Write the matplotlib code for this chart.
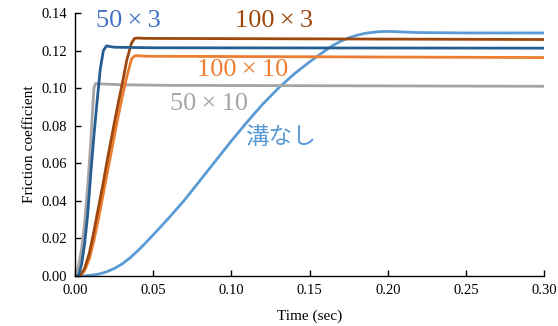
import matplotlib
matplotlib.use("Agg")
import matplotlib.pyplot as plt
import numpy as np

# Data
t_50x3 = [0, 0.002, 0.004, 0.006, 0.008, 0.010, 0.012, 0.014, 0.016, 0.018, 0.020, 0.022, 0.025, 0.05, 0.30]
f_50x3 = [0, 0.0, 0.006, 0.017, 0.033, 0.055, 0.075, 0.093, 0.110, 0.120, 0.1225, 0.1222, 0.1218, 0.1215, 0.1213]

t_50x10 = [0, 0.002, 0.004, 0.006, 0.008, 0.010, 0.011, 0.012, 0.013, 0.015, 0.03, 0.06, 0.30]
f_50x10 = [0, 0.005, 0.014, 0.028, 0.048, 0.072, 0.087, 0.100, 0.1025, 0.1023, 0.1018, 0.1015, 0.1010]

t_100x3 = [0, 0.003, 0.006, 0.009, 0.012, 0.015, 0.018, 0.021, 0.024, 0.027, 0.030, 0.033, 0.036, 0.038, 0.040, 0.045, 0.30]
f_100x3 = [0, 0, 0.004, 0.012, 0.024, 0.037, 0.050, 0.064, 0.077, 0.090, 0.102, 0.115, 0.124, 0.1265, 0.1267, 0.1265, 0.1259]

t_100x10 = [0, 0.003, 0.006, 0.009, 0.012, 0.015, 0.018, 0.021, 0.024, 0.027, 0.030, 0.033, 0.036, 0.038, 0.040, 0.045, 0.30]
f_100x10 = [0, 0, 0.003, 0.009, 0.019, 0.031, 0.044, 0.057, 0.070, 0.083, 0.095, 0.106, 0.1155, 0.1172, 0.1173, 0.1170, 0.1163]

t_none = [0, 0.005, 0.01, 0.015, 0.02, 0.025, 0.03, 0.035, 0.04, 0.045, 0.05, 0.055, 0.06, 0.07, 0.08, 0.09,
          0.10, 0.11, 0.12, 0.13, 0.14, 0.15, 0.155, 0.16, 0.165, 0.17, 0.175, 0.18, 0.185, 0.19, 0.195,
          0.20, 0.205, 0.21, 0.22, 0.25, 0.30]
f_none = [0, 0.0, 0.0004, 0.001, 0.0022, 0.004, 0.0064, 0.0096, 0.0134, 0.0176, 0.022, 0.0265, 0.031, 0.0405,
          0.051, 0.0615, 0.072, 0.082, 0.0915, 0.1, 0.1075, 0.114, 0.117, 0.1200, 0.1228, 0.1250, 0.1268,
          0.1281, 0.1291, 0.1297, 0.1301, 0.1302, 0.1301, 0.1299, 0.1296, 0.1294, 0.1294]

x_ticks = [0.00, 0.05, 0.10, 0.15, 0.20, 0.25, 0.30]
y_ticks = [0.00, 0.02, 0.04, 0.06, 0.08, 0.10, 0.12, 0.14]

c_50x3 = "#255E91"
c_50x10 = "#A5A5A5"
c_100x3 = "#9E480E"
c_100x10 = "#ED7D31"
c_none = "#5B9BD5"

plt.rcParams['font.family'] = ['Liberation Serif', 'DejaVu Serif']

fig = plt.figure(figsize=(5.58, 3.26), dpi=100)
ax = fig.add_axes([0.1348, 0.1534, 0.975 - 0.1348, 0.960 - 0.1534])

lw = 2.0
ax.plot(t_none, f_none, color=c_none, lw=lw)
ax.plot(t_50x10, f_50x10, color=c_50x10, lw=lw)
ax.plot(t_100x10, f_100x10, color=c_100x10, lw=lw)
ax.plot(t_100x3, f_100x3, color=c_100x3, lw=lw)
ax.plot(t_50x3, f_50x3, color=c_50x3, lw=lw)

ax.set_xlim(0, 0.30)
ax.set_ylim(0, 0.14)
ax.set_xticks(x_ticks)
ax.set_yticks(y_ticks)
ax.set_xticklabels([f"{v:.2f}" for v in x_ticks])
ax.set_yticklabels([f"{v:.2f}" for v in y_ticks])
ax.tick_params(direction='in', length=4, width=1, labelsize=10.5, pad=6)
for s in ['top', 'right']:
    ax.spines[s].set_visible(False)
for s in ['left', 'bottom']:
    ax.spines[s].set_linewidth(1.0)

ax.set_xlabel("Time (sec)", fontsize=11, labelpad=9)
ax.set_ylabel("Friction coefficient", fontsize=11, labelpad=4)

fs = 19
sp = "\u2009"
ax.text(0.0135, 0.1355, f"50{sp}×{sp}3", color="#4472C4", fontsize=fs, ha='left', va='center')
ax.text(0.1025, 0.1355, f"100{sp}×{sp}3", color=c_100x3, fontsize=fs, ha='left', va='center')
ax.text(0.078, 0.1095, f"100{sp}×{sp}10", color=c_100x10, fontsize=fs, ha='left', va='center')
ax.text(0.0605, 0.0915, f"50{sp}×{sp}10", color=c_50x10, fontsize=fs, ha='left', va='center')
ax.text(0.109, 0.0735, "溝なし", color=c_none, fontsize=17, ha='left', va='center',
        family=['Noto Sans CJK JP', 'DejaVu Sans'])

fig.savefig("out.png", dpi=100)
